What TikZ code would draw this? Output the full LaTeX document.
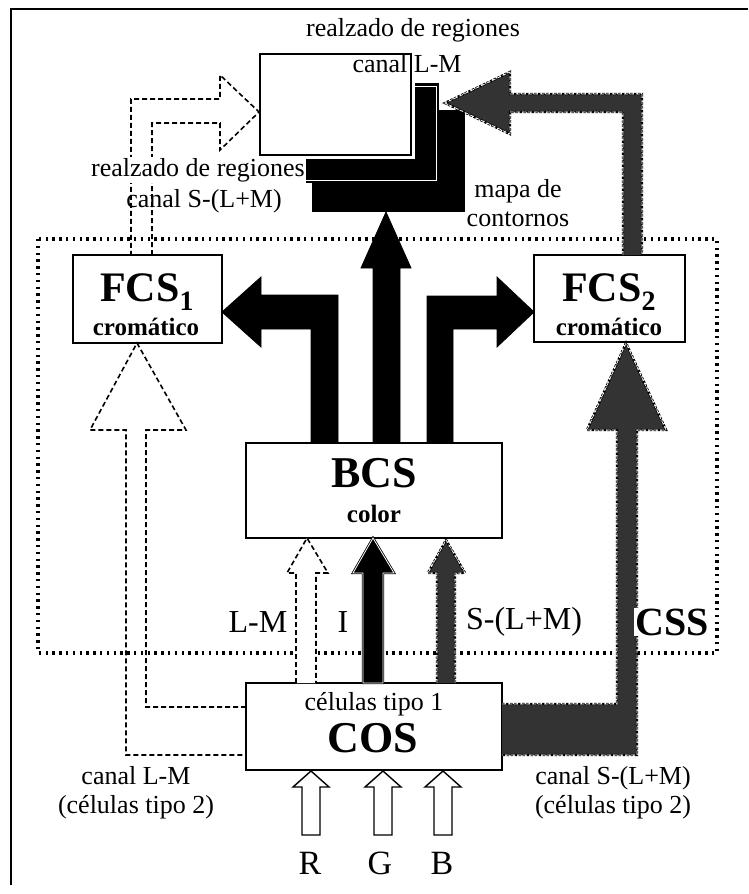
\documentclass[tikz,border=0pt]{standalone}
\usepackage{fontspec}
\setmainfont{Liberation Serif}
\begin{document}
\begin{tikzpicture}[x=1pt,y=-1pt,
  box/.style={draw=black, line width=1.5pt, fill=white, inner sep=0pt, outer sep=0pt},
  txt/.style={inner sep=1pt, font=\fontsize{26}{30}\selectfont},
  mid/.style={inner sep=1pt, font=\fontsize{32}{34}\selectfont},
  bigb/.style={inner sep=1pt, font=\fontsize{44}{46}\selectfont\bfseries},
  smallb/.style={inner sep=1pt, font=\fontsize{25}{27}\selectfont\bfseries},
  solidarrow/.style={fill=black, draw=black, line width=0.8pt, line join=miter},
  outlinedarrow/.style={fill=black, draw=black, double=white, double distance=0.8pt, line width=0.8pt, line join=miter},
  hollowarrow/.style={fill=white, draw=black, line width=1.4pt, line join=miter},
  dasharrow/.style={draw=black, line width=1.6pt, dash pattern=on 5pt off 3pt, line join=miter},
  dashfill/.style={fill=white, draw=black, line width=1.6pt, dash pattern=on 5pt off 3pt, line join=miter},
  grayfill/.style={fill=black!80},
  grayedge/.style={preaction={draw=black, line width=2.4pt, dash pattern=on 2.6pt off 1.4pt},
                   draw=white, line width=0.7pt, dash pattern=on 4pt off 2pt, line join=miter},
  framedots/.style={draw=black, line width=3.4pt, dash pattern=on 2.4pt off 4.4pt}]
\useasboundingbox (0,0) rectangle (748,894);

% page frame
\draw[line width=2pt] (11,885) -- (11,9) -- (748,9);

% CSS region
\draw[framedots] (38,239) rectangle (717,653);

% stacked output maps
\node[fill=black, inner sep=0pt, minimum width=153pt, minimum height=102pt, anchor=north west] (contornos) at (312,110) {};
\node[fill=black, draw=black, line width=1pt, inner sep=0pt, minimum width=150pt, minimum height=99pt, anchor=north west] (regSLM) at (288,83) {};
\draw[white, line width=0.9pt] ([shift={(3,3)}]regSLM.north west) rectangle ([shift={(-3,-3)}]regSLM.south east);
\fill[white] (257,51) rectangle (415,159);
\node[box, line width=1.2pt, minimum width=151pt, minimum height=101pt, anchor=north west] (regLM) at (260,54) {};

% processing stages
\node[box, minimum width=149pt, minimum height=88pt] (fcs1) at (147.5,299) {};
\node[box, minimum width=151pt, minimum height=87pt] (fcs2) at (609.5,298.5) {};
\node[box, minimum width=256pt, minimum height=95pt] (bcs) at (374,490.5) {};
\node[box, minimum width=256pt, minimum height=87pt] (cos) at (374,726.5) {};

% BCS outputs
\draw[solidarrow] (311,443) -- (311,329) -- (261,329) -- (261,347) -- (222,312) -- (261,277) -- (261,295) -- (338,295) -- (338,443) -- cycle;
\draw[solidarrow] (427,443) -- (427,296) -- (497,296) -- (497,277) -- (534,312) -- (497,347) -- (497,329) -- (453,329) -- (453,443) -- cycle;
\draw[solidarrow] (373,443) -- (373,268) -- (361,268) -- (386,212) -- (411,268) -- (400,268) -- (400,443) -- cycle;

% L-M channel
\draw[dasharrow] (152,255) -- (152,123) -- (220,123) -- (220,150) -- (259,112) -- (220,75) -- (220,99) -- (131,99) -- (131,255);
\draw[dasharrow] (246,707) -- (146,707) -- (146,430) -- (186,430) -- (137,343) -- (90,430) -- (126,430) -- (126,755) -- (246,755);

% S-(L+M) channel
\fill[grayfill] (502,704) -- (617,704) -- (617,430) -- (587,430) -- (626,343) -- (666,430) -- (637,430) -- (637,755) -- (502,755) -- cycle;
\draw[grayedge] (502,704) -- (617,704) -- (617,430) -- (587,430) -- (626,343) -- (666,430) -- (637,430) -- (637,755) -- (502,755);
\fill[grayfill] (623,255) -- (623,112) -- (510,112) -- (510,134) -- (445,103) -- (510,72) -- (510,94) -- (642,94) -- (642,255) -- cycle;
\draw[grayedge] (623,255) -- (623,112) -- (510,112) -- (510,134) -- (445,103) -- (510,72) -- (510,94) -- (642,94) -- (642,255);

% COS to BCS
\draw[dashfill] (296,683) -- (296,573) -- (287,573) -- (307,538) -- (328,573) -- (316,573) -- (316,683);
\draw[outlinedarrow] (363,683) -- (363,573) -- (353,573) -- (373,538) -- (394,573) -- (383,573) -- (383,683) -- cycle;
\fill[grayfill] (437,683) -- (437,573) -- (428,573) -- (446,540) -- (465,573) -- (455,573) -- (455,683) -- cycle;
\draw[grayedge] (437,683) -- (437,573) -- (428,573) -- (446,540) -- (465,573) -- (455,573) -- (455,683);

% R G B inputs
\foreach \cx in {311,383,443}{
  \draw[hollowarrow] (\cx-9,835) -- (\cx-9,787) -- (\cx-18,787) -- (\cx,771) -- (\cx+18,787) -- (\cx+9,787) -- (\cx+9,835) -- cycle;
}

% labels
\node[txt] (tTop) at (413,30) {realzado de regiones};
\node[txt] (tLM) at (407,64) {canal L-M};
\node[txt, fill=white] (tReg) at (198,170) {realzado de regiones};
\node[txt] (tSLM) at (204,201) {canal S-(L+M)};
\node[txt, align=center] (tMapa) at (518,203) {mapa de\\[-1pt]contornos};

\node[inner sep=0pt, font=\fontsize{42}{44}\selectfont\bfseries] (lFcs1) at (147,292) {FCS\raisebox{-0.22em}{\fontsize{28}{28}\selectfont 1}};
\node[smallb] (lCrom1) at (146,327) {cromático};
\node[inner sep=0pt, font=\fontsize{42}{44}\selectfont\bfseries] (lFcs2) at (609,292) {FCS\raisebox{-0.22em}{\fontsize{28}{28}\selectfont 2}};
\node[smallb] (lCrom2) at (609,327) {cromático};

\node[bigb] (lBcs) at (374,473) {BCS};
\node[smallb] (lColor) at (374,514) {color};

\node[txt] (lTipo1) at (374,704) {células tipo 1};
\node[bigb] (lCos) at (373,738) {COS};

\node[mid] (lLM) at (258,622) {L-M};
\node[mid] (lI) at (343,622) {I};
\node[mid] (lS) at (524,622) {S-(L+M)};
\node[inner sep=1pt, fill=white, font=\fontsize{40}{42}\selectfont\bfseries] (lCss) at (672,622) {CSS};

\node[txt, align=center] (lCanal1) at (136,793) {canal L-M\\[-1pt](células tipo 2)};
\node[txt, align=center] (lCanal2) at (613,793) {canal S-(L+M)\\[-1pt](células tipo 2)};

\node[inner sep=0pt, font=\fontsize{34}{36}\selectfont] (lR) at (310,863) {R};
\node[inner sep=0pt, font=\fontsize{34}{36}\selectfont] (lG) at (380,863) {G};
\node[inner sep=0pt, font=\fontsize{34}{36}\selectfont] (lB) at (442,863) {B};
\end{tikzpicture}
\end{document}
